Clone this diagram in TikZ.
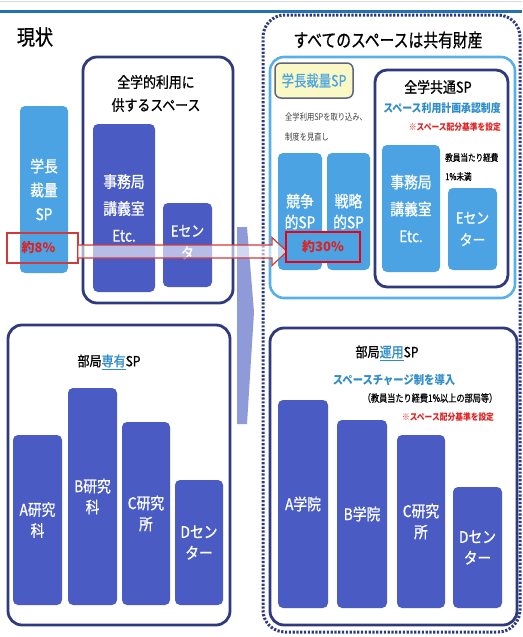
\documentclass[tikz,border=0pt]{standalone}
\usepackage{fontspec}
\setmainfont{Noto Sans CJK JP}
\newfontfamily\jp[FakeStretch=0.86]{Noto Sans CJK JP}
\newfontfamily\jpm[FakeStretch=0.86,FakeBold=0.9]{Noto Sans CJK JP}
\newfontfamily\jpn[FakeStretch=0.8]{Noto Sans CJK JP}
\newfontfamily\jpnm[FakeStretch=0.8,FakeBold=0.6]{Noto Sans CJK JP}
\usetikzlibrary{calc}
\definecolor{barblue}{HTML}{4A5CC4}
\definecolor{skyblue}{HTML}{4BA3E3}
\definecolor{navyline}{HTML}{2F3A7E}
\definecolor{lightframe}{HTML}{58B0EA}
\definecolor{tealtext}{HTML}{2E8CC8}
\definecolor{redtext}{HTML}{E02020}
\definecolor{topline}{HTML}{2271B3}
\definecolor{chevron}{HTML}{8E9BD8}
\definecolor{yellowfill}{HTML}{FAF8C4}
\definecolor{arrowred}{HTML}{D23A3A}
\tikzset{
  bar/.style={fill=barblue, rounded corners=5, text=white, align=center, inner sep=0pt,
              font=\jpm\fontsize{16}{21}\selectfont},
  sky/.style={bar, fill=skyblue},
  frame/.style={draw=navyline, line width=2.8pt, rounded corners=14, fill=white, inner sep=0pt},
  lbframe/.style={draw=lightframe, line width=2.6pt, rounded corners=14, fill=white, inner sep=0pt},
  lab/.style={inner sep=0pt, align=center},
  redbox/.style={draw=arrowred, line width=1.2pt, inner sep=0pt, text=redtext,
                 font=\fontsize{13}{13}\selectfont\bfseries},
}
\begin{document}
\begin{tikzpicture}[x=1pt,y=-1pt]
\useasboundingbox[fill=white] (0,0) rectangle (522,637);
% top lines
\draw[gray!30, line width=0.8pt] (0,1) -- (522,1);
\draw[topline, line width=3pt] (0,11) -- (522,11);

% ---------- left: current state ----------
\node[lab, font=\jpm\fontsize{21}{21}\selectfont] (title1) at (35,37) {現状};

\node[sky, minimum width=48, minimum height=167, font=\jpm\fontsize{16}{24}\selectfont] (gs) at (44,189.5) {学長\\裁量\\SP};

\node[frame, minimum width=150, minimum height=246] (zf) at (158,180) {};
\node[lab, font=\jpm\fontsize{15}{23}\selectfont] (zt) at (156,93.5) {全学的利用に\\供するスペース};
\node[bar, minimum width=62, minimum height=168, font=\jpm\fontsize{16}{27}\selectfont] (jl) at (124,208) {事務局\\講義室\\Etc.};
\node[bar, minimum width=49, minimum height=84, font=\jpm\fontsize{15}{22}\selectfont] (el) at (187.5,245) {Eセン\\タ\strut};

\node[frame, minimum width=222, minimum height=300] (bf) at (119,475) {};
\node[lab, font=\jpm\fontsize{14}{14}\selectfont] (bt) at (109,362) {部局{\color{tealtext}\underline{専有}}SP};
\node[bar, minimum width=49, minimum height=170] (ak) at (37.5,520) {A研究\\科};
\node[bar, minimum width=49, minimum height=217] (bk) at (92.5,496.5) {B研究\\科};
\node[bar, minimum width=48, minimum height=183] (ck) at (146,513.5) {C研究\\所};
\node[bar, minimum width=48, minimum height=125] (dk) at (199,542.5) {Dセン\\ター};

% ---------- right: all spaces shared ----------
\node[draw=navyline, line width=3pt, dash pattern=on 2.2pt off 1.6pt, rounded corners=22,
      minimum width=257, minimum height=617, inner sep=0pt] (df) at (391.5,323.5) {};
\node[lab, font=\jpnm\fontsize{18.5}{18.5}\selectfont] (rt) at (388,40) {すべてのスペースは共有財産};

\node[lbframe, minimum width=245, minimum height=241] (lf) at (392.5,177.5) {};
\node[draw=gray!60!navyline, line width=1.5pt, fill=yellowfill, rounded corners=6,
      minimum width=78, minimum height=35, inner sep=0pt, text=skyblue,
      font=\jpnm\fontsize{15.5}{15.5}\selectfont] (yb) at (314,80.5) {学長裁量SP};
\node[lab, align=left, anchor=west, text=black!75, font=\jpn\fontsize{9.1}{20}\selectfont] (note1) at (285,127) {全学利用SPを取り込み、\\制度を見直し};
\node[sky, minimum width=44, minimum height=117] (kq) at (300,211.5) {競争\\的SP};
\node[sky, minimum width=43, minimum height=117] (sr) at (348.5,211.5) {戦略\\的SP};

\node[frame, minimum width=133, minimum height=217, rounded corners=12] (kf) at (441.5,178.5) {};
\node[lab, font=\jpm\fontsize{15}{15}\selectfont] (kt) at (438,87) {全学共通SP};
\node[lab, text=tealtext, font=\jp\fontsize{11.5}{11.5}\selectfont\bfseries] (kt2) at (442,108) {スペース利用計画承認制度};
\node[lab, anchor=east, text=redtext, font=\jp\fontsize{9}{9}\selectfont\bfseries] (kt3) at (501,127) {※スペース配分基準を設定};
\node[sky, minimum width=58, minimum height=127, font=\jpm\fontsize{16}{27}\selectfont] (jr) at (411,208.5) {事務局\\講義室\\Etc.};
\node[lab, align=left, anchor=west, font=\jpnm\fontsize{9.5}{19}\selectfont] (kt4) at (445,167) {教員当たり経費\\1\%未満};
\node[sky, minimum width=49, minimum height=82, font=\jpm\fontsize{15}{22}\selectfont] (er) at (472.5,229) {Eセン\\ター};

\node[frame, minimum width=247, minimum height=297] (uf) at (393.5,476.5) {};
\node[lab, font=\jpm\fontsize{14}{14}\selectfont] (ut) at (387,353) {部局{\color{tealtext}\underline{運用}}SP};
\node[lab, text=tealtext, font=\jp\fontsize{12}{12}\selectfont\bfseries] (ut2) at (394,380) {スペースチャージ制を導入};
\node[lab, font=\jpnm\fontsize{10.2}{10.2}\selectfont] (ut3) at (430,398) {（教員当たり経費1\%以上の部局等）};
\node[lab, text=redtext, font=\jp\fontsize{9}{9}\selectfont\bfseries] (ut4) at (448,417) {※スペース配分基準を設定};
\node[bar, minimum width=50, minimum height=208] (ag) at (303,504) {A学院};
\node[bar, minimum width=50, minimum height=188] (bg) at (362,514) {B学院};
\node[bar, minimum width=48, minimum height=173] (cg) at (421,521.5) {C研究\\所};
\node[bar, minimum width=49, minimum height=121] (dg) at (477.5,547.5) {Dセン\\ター};

% ---------- transition chevron ----------
\fill[chevron] (237,227) -- (247,227) -- (254,312) -- (247,424) -- (237,424) -- cycle;

% ---------- arrow 8% -> 30% ----------
\node[redbox, minimum width=71, minimum height=30] (e8) at (42.5,248) {\hspace*{-8pt}約8\%};
\coordinate (as) at (78,251.5);
\coordinate (ae) at (287,251.5);
\draw[arrowred, line width=1.2pt, fill=white, fill opacity=0.6]
  ($(as)+(0,-6.5)$) -- ($(ae)+(-15,-6.5)$) -- ($(ae)+(-15,-14)$) -- (ae)
  -- ($(ae)+(-15,14)$) -- ($(ae)+(-15,6.5)$) -- ($(as)+(0,6.5)$);
\node[redbox, draw=red!70!purple, fill=skyblue, minimum width=74, minimum height=30] (e30) at (323,247) {約30\%};
\end{tikzpicture}
\end{document}
